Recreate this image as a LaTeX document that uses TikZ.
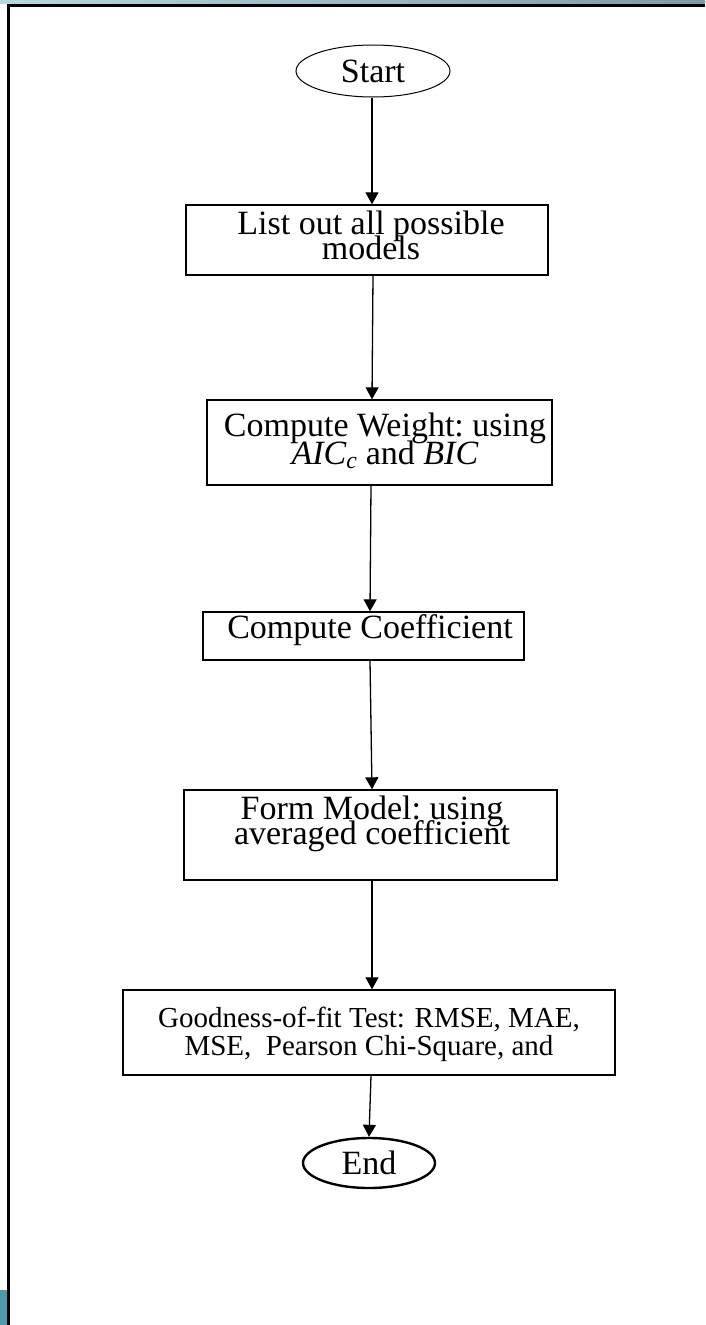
\documentclass[tikz,border=0pt]{standalone}
\usepackage{fontspec}
\setmainfont{Liberation Serif}
\usetikzlibrary{arrows.meta,shapes.geometric}
\definecolor{tealbar}{HTML}{4E9AAB}
\definecolor{tealgray}{HTML}{7F98A6}
\newcommand\tightskip{\lineskiplimit=-60pt\relax}

\begin{document}
\begin{tikzpicture}[x=1pt,y=-1pt,
        box/.style={draw,line width=1.4pt,inner sep=0pt},
        txt/.style={align=center,inner sep=0pt,font=\fontsize{34}{25}\selectfont\tightskip},
        term/.style={draw,ellipse,inner sep=0pt,font=\fontsize{34}{40}\selectfont},
        arr/.style={line width=1.3pt,-{Triangle[length=12pt,width=13pt]}}]
        \useasboundingbox (0,0) rectangle (705,1325);
        \shade[left color=tealbar!40!white,right color=tealgray] (0,0) rectangle (705,3.5);
        \fill[tealbar] (0,1290) rectangle (7,1325);
        \draw[line width=3pt] (8.5,1325) -- (8.5,5) -- (705,5);

        \node[term,line width=1pt,minimum width=154,minimum height=52] (start) at (373,71) {Start};
        \node[box,minimum width=362,minimum height=70] (list) at (367,240) {};
        \node[txt] (listtxt) at (371,235) {List out all possible\\models};
        \node[box,minimum width=345,minimum height=85] (weight) at (379.5,442.5) {};
        \node[txt,font=\fontsize{34}{28}\selectfont\tightskip] (weighttxt) at (385,441) {Compute Weight:\ using\\\textit{AIC\textsubscript{c}} and \textit{BIC}};
        \node[box,minimum width=321,minimum height=48] (coef) at (363.5,636) {};
        \node[txt] (coeftxt) at (370,630) {Compute Coefficient};
        \node[box,minimum width=373,minimum height=90] (form) at (370.5,835) {};
        \node[txt] (formtxt) at (372,824) {Form Model:\ using\\averaged coefficient};
        \node[box,minimum width=492,minimum height=85] (fit) at (369,1032.5) {};
        \node[txt,font=\fontsize{29}{28}\selectfont] (fittxt) at (369,1034) {Goodness-of-fit Test: RMSE, MAE,\\MSE,\ \ Pearson Chi-Square, and};
        \node[term,line width=2.4pt,minimum width=132,minimum height=50] (end) at (369,1163) {End};

        \draw[arr] (start.south -| 372,0) -- (list.north -| 372,0);
        \draw[arr] (list.south -| 373,0) -- (weight.north -| 372,0);
        \draw[arr] (weight.south -| 371,0) -- (coef.north -| 370,0);
        \draw[arr] (coef.south -| 370,0) -- (form.north -| 372,0);
        \draw[arr] (form.south -| 372,0) -- (fit.north -| 372,0);
        \draw[arr] (fit.south -| 371,0) -- (end.north);
    \end{tikzpicture}
\end{document}
